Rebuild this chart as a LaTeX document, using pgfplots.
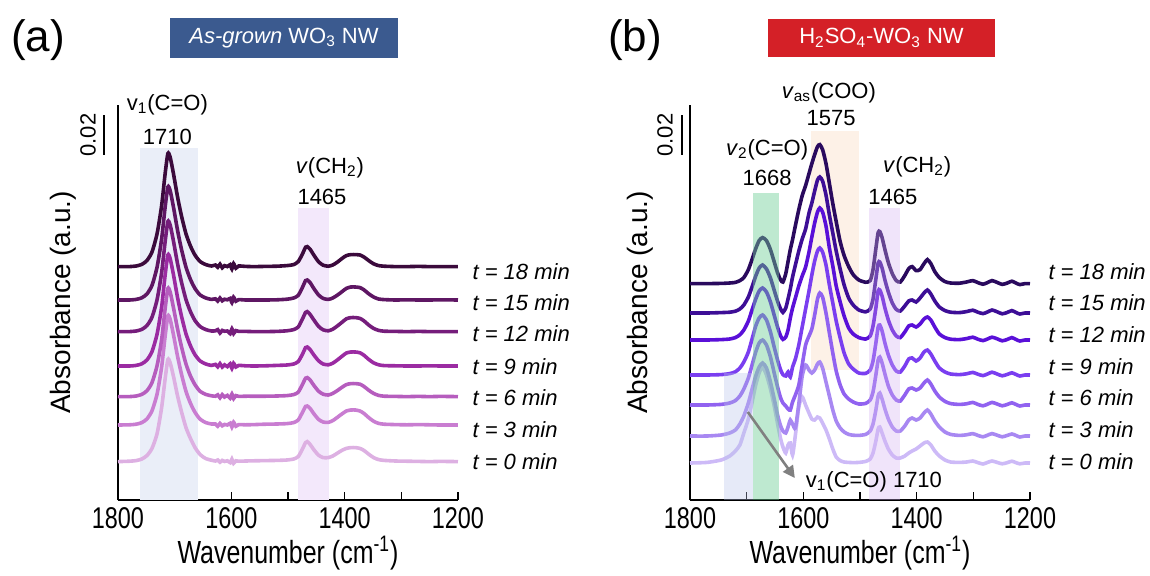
\documentclass[border=0pt]{standalone}
\usepackage{pgfplots}
\pgfplotsset{compat=1.18}
\usepackage{pgfplotstable}
\usepackage{fontspec}
\setmainfont{Liberation Sans}
\newfontfamily\narrowfont[FakeStretch=0.78]{Liberation Sans}
\usetikzlibrary{arrows.meta}

% curve colours, t = 0 ... 18 min
\definecolor{la0}{HTML}{DDB0E2}
\definecolor{la3}{HTML}{C97DD1}
\definecolor{la6}{HTML}{B65DBE}
\definecolor{la9}{HTML}{9B2BA2}
\definecolor{la12}{HTML}{751D7B}
\definecolor{la15}{HTML}{5E1663}
\definecolor{la18}{HTML}{3B0A3C}
\definecolor{rb0}{HTML}{CDBAF7}
\definecolor{rb3}{HTML}{A888F2}
\definecolor{rb6}{HTML}{9162F0}
\definecolor{rb9}{HTML}{7A3EF0}
\definecolor{rb12}{HTML}{5A10D8}
\definecolor{rb15}{HTML}{3D0E96}
\definecolor{rb18}{HTML}{2A0A5E}
\definecolor{boxblue}{HTML}{3B5A8F}
\definecolor{boxred}{HTML}{D42027}
\definecolor{bandblue}{HTML}{EAEEF8}
\definecolor{bandpurple}{HTML}{F3E8FB}
\definecolor{bandorange}{HTML}{FDF1E7}
\definecolor{bandgreen}{HTML}{6FCF97}
\definecolor{bandblue2}{HTML}{B8C3EA}
\definecolor{bandpurple2}{HTML}{D4B3F2}

% absorbance in 10^-3, relative to each curve's own baseline
\pgfplotstableread{
wn   l0   l3   l6   l9   l12  l15  l18
1800 0    0    0    0    0    0    0
1780 0.2  0.1  0    0    0    0    0
1768 0.5  0.4  0.3  0.3  0.3  0.3  0.3
1758 1.3  1.2  1.1  1.1  1.1  1.1  1.1
1749 3    3    2.9  3    3    3    3
1740 6.6  7.1  7    7.2  7.2  7.3  7.3
1731 14   15.5 15.5 16   16   16.5 16.5
1723 27   29   28.5 29.5 29.5 30.5 30.5
1717 41   44   43.5 45   44.5 46   46
1712 51   54.5 54   55.5 55   56.5 56.5
1708 49.5 52.9 52.4 53.8 53.4 54.8 54.8
1702 42.5 45   44.3 45.5 45.1 46.3 46.3
1695 33   34.5 34   34.4 34.1 35   35
1688 25   25.5 25   25   24.8 25.4 25.4
1680 17   16.8 16.3 16.1 16   16.4 16.4
1672 11.5 10.8 10.2 10   9.9  10.2 10.2
1664 7    6.3  5.9  5.6  5.5  5.7  5.7
1655 3.5  2.9  2.6  2.5  2.5  2.5  2.5
1645 1.5  1.2  1.1  1    1    1    1
1635 0.7  0.5  0.4  0.3  0.3  0.3  0.3
1628 0.3  0.5  0.2  0.8  0.4  0.6  0.8
1624 0.8  -0.6 0.9  -0.4 1    -0.5 -0.3
1620 -0.3 0.8  -0.6 1.2  -0.7 1    1.2
1616 0.6  -0.4 1    -0.5 0.6  -0.4 -0.6
1612 0.1  0.3  -0.2 0.6  0.2  0.4  0.5
1607 0.4  0    0.6  -0.3 0.3  0.1  0
1602 -0.5 0.9  -0.8 1.1  -1   0.8  1
1599 1.2  -1   1.3  -1.2 1.4  -1.3 -1.2
1596 -0.8 1.4  -1   1.4  -1   1.4  1.5
1592 0.4  -0.6 0.5  -0.5 0.5  -0.6 -0.8
1587 0.2  0.2  0.1  0.3  0.1  0.2  0.3
1575 0.3  0.1  0.2  0.1  0.1  0    0.1
1560 0.4  0.2  0.2  0    0    0    0
1540 0.5  0.4  0.2  0.1  0    0    0.1
1520 0.6  0.5  0.3  0.3  0.1  0.1  0.2
1502 0.8  0.7  0.5  0.5  0.4  0.4  0.5
1490 1.3  1.2  1    1    1    1    1
1482 2.5  2.5  2.2  2.2  2.3  2.3  2.5
1475 6    6    5.8  5.6  6    6    6
1469 9.5  9.3  9.2  9.2  9.6  9.7  9.7
1466 10   9.5  9.5  9.5  10   10   10
1461 8.6  8.3  8.3  8.2  8.6  8.7  8.7
1454 5.8  5.5  5.5  5.4  5.7  5.6  5.6
1446 3.2  2.8  2.7  2.6  2.6  2.5  2.4
1438 2    1.5  1.2  1    0.9  0.8  0.7
1429 2    1.3  0.8  0.6  0.4  0.3  0.2
1421 2.8  2.2  1.6  1.4  1.2  1    0.8
1413 4.2  3.8  3    3    2.8  2.4  2.2
1405 5.6  5.5  4.6  4.8  4.6  4.1  4
1397 6.6  7    6    6.5  6.4  5.8  5.5
1389 7    7.5  6.5  7    7    6.5  6
1381 7    7.5  6.5  7    7    6.5  6
1373 6.6  7    6.2  6.6  6.6  6.2  5.8
1366 5.6  5.8  5.1  5.4  5.4  5.1  4.8
1358 3.8  3.8  3.3  3.4  3.4  3.2  3.1
1349 2    1.9  1.6  1.6  1.6  1.5  1.4
1340 1    0.8  0.6  0.6  0.6  0.5  0.5
1330 0.6  0.4  0.2  0.2  0.2  0.2  0.2
1310 0.3  0.2  0.1  0.1  0.1  0    0
1290 0.2  0.1  0    0    0    0.1  0
1270 0.1  0.2  0.1  0    0.1  0    0.1
1250 0    0.1  0    0.1  0    0    0
1230 0.1  0    0.1  0    0    0.1  0
1200 0    0    0    0    0    0    0
}\lefttab

\pgfplotstableread{
wn   r0   r3   r6   r9   r12  r15  r18
1800 0    0    0    0    0    0    0
1770 0.3  0    0    0    0    0    0
1745 1.5  0.5  0.3  0.2  0.2  0.2  0.1
1730 3.5  1.5  1    0.7  0.5  0.4  0.3
1720 6    3    2.2  1.6  1.2  0.9  0.6
1712 9    6    4.5  3.5  2.6  2    1.5
1705 15   10   8    6.5  5    4    3
1697 22   16.5 13.5 11.5 9.5  8    7
1690 31   24   20.5 18.5 15.5 13.5 12.5
1684 39   30   26.5 24.5 20.5 18.5 17.5
1678 45   34.5 31   28.5 24.5 22.5 21.5
1672 48   36.5 32.5 30   26   24   23
1665 44   34   30   27.5 24   22   21.5
1658 37   27   24   21.5 19   17.5 17
1651 28   18   15.5 13.5 12   11   10.5
1645 19   10   8.5  7    6    5.5  5
1640 12   5    3.5  2.5  2    2    1.8
1636 8    2.5  1    0.2  0.3  0.3  0.8
1631 5    1.5  -0.5 -0.5 1.5  2.5  5
1627 9    4.5  -2   1.5  5    7    11
1623 10   8    -2.5 -1   11   12   17
1619 4    6    1.5  4    16   18   22
1614 14   4    5    8    21   24   29
1608 28   16   10   15   27   31   37
1602 33   30   20   24   32   37   44
1596 29   35.5 30   33   36.5 42   49
1590 25   33   34.5 42   44   50   55
1585 22   31.5 38   50   51.5 55   60
1580 21.5 33   45   57   58.5 61   64.5
1575 23   36   53   62   64   66.5 68.5
1571 22.5 37   56   63.5 66   68   69.5
1566 20   34   54   61.5 64   66   67
1560 16.5 27   46   55   57   59   60
1554 12   20   36   45   46   49   50
1548 7    13   26   36   37   40   40
1542 3    7.5  17   27   27   31   31
1535 1.2  4    10   18.5 19   22   21
1528 0.5  2    5.5  11   12   14   14
1520 0.3  0.8  3    5.5  6    7.5  8.5
1512 0.2  0.4  1.5  3    3    4    4.5
1502 0.3  0.3  0.5  1    1.2  1.5  1.8
1490 0.8  0.8  0.8  0.8  0.5  0.6  0.7
1482 2    2.5  2.5  2.5  2    2    1.5
1477 5    6    6.5  7    7    7    7
1472 11   13   15   16   16   17   17.5
1468 17   20   22.5 24   24.5 25   25.5
1465 18   21.5 24   25   25   25.5 26
1461 15   18.5 21   22   22   22.5 23
1456 11   13.5 15.5 16   16   16.5 17
1450 7    8.5  9.5  10   10   10.5 10.5
1443 4    4.5  5    5    5    5    5
1436 2.5  2.5  2.5  2    2    1.8  1.5
1429 2.5  2.5  2    1.5  1.2  1    0.8
1421 3.5  5    5    4.5  4    3.5  4
1414 5    8    8    8    7    6    7.5
1408 6    9    8.5  8.5  7.5  6.5  8.5
1401 7    8    7.5  7    6.5  5.5  6.5
1394 8.5  9    8.5  8.5  8    7.5  7
1387 10   11.5 11   11.5 10.5 10   10
1381 10.5 13   12.5 12.5 11.5 11.5 12
1375 9    11   10.5 10.5 10   9.5  10
1368 6    7.5  7    7    6.5  6    6
1360 3.5  4.5  4    3.5  3    3    3
1350 1.5  2    1.8  1.5  1.2  1.2  1
1340 0.5  0.8  0.7  0.5  0.4  0.4  0.3
1325 0.3  0.3  0.3  0.2  0.2  0.2  0.2
1312 0.5  0.6  0.6  0.6  0.7  0.7  0.8
1301 1    1.2  1.3  1.3  1.4  1.4  1.5
1292 0.2  0.3  0.3  0.4  0.4  0.4  0.5
1283 -0.5 -0.4 -0.4 -0.3 -0.3 -0.3 -0.3
1275 0.3  0.4  0.4  0.5  0.5  0.5  0.5
1267 1    1.2  1.3  1.4  1.4  1.5  1.5
1258 0.3  0.4  0.5  0.5  0.6  0.6  0.6
1249 -0.4 -0.4 -0.4 -0.4 -0.4 -0.4 -0.4
1240 0.2  0.3  0.3  0.3  0.3  0.3  0.3
1232 0.9  1    1.1  1.1  1.2  1.2  1.2
1225 0.2  0.3  0.3  0.3  0.3  0.3  0.3
1218 -0.4 -0.5 -0.5 -0.5 -0.5 -0.5 -0.5
1209 0    0    0    0    0    0    0
1200 0    0    0    0    0    0    0
}\righttab

\pgfplotsset{
  ftir/.style={
    width=170pt, height=197.5pt, scale only axis,
    xmin=1200, xmax=1800, x dir=reverse,
    ymin=0, ymax=197.5,
    axis x line=bottom, axis y line=left,
    axis line style={-, line width=0.7pt},
    ytick=\empty,
    xtick={1200,1400,1600,1800},
    minor xtick={1300,1500,1700},
    tick align=inside,
    major tick length=4pt, minor tick length=4pt,
    every tick/.style={black, line width=0.7pt},
    /pgf/number format/assume math mode=true,
    /pgf/number format/1000 sep={},
    xticklabel style={font=\narrowfont\fontsize{15}{15}\selectfont},
    xlabel={Wavenumber (cm\textsuperscript{-1})},
    xlabel style={font=\narrowfont\fontsize{16}{16}\selectfont,
      at={(axis description cs:0.5,-0.134)}, anchor=center},
    ylabel={Absorbance (a.u.)},
    ylabel style={font=\fontsize{14}{14}\selectfont, anchor=center},
    clip=false,
  },
  spec/.style={line width=1.8pt, smooth, tension=0.4},
}
\tikzset{
  tlab/.style={anchor=west, inner sep=0pt, font=\itshape\fontsize{11}{11}\selectfont},
  blab/.style={font=\fontsize{11}{11}\selectfont},
}

\begin{document}
\begin{tikzpicture}
\path[use as bounding box] (0,0) rectangle (575pt,287.5pt);

% panel (a)
\begin{axis}[ftir, at={(59pt,37.5pt)}, anchor=south west,
  ylabel style={at={(axis description cs:-0.162,0.5)}}]
\fill[bandblue] (axis cs:1761,0) rectangle (axis cs:1659,176);
\fill[bandpurple] (axis cs:1482,0) rectangle (axis cs:1428,146);
\addplot[spec, la0]  table[x=wn, y expr=\thisrow{l0}+19.2]  {\lefttab};
\addplot[spec, la3]  table[x=wn, y expr=\thisrow{l3}+37.5]  {\lefttab};
\addplot[spec, la6]  table[x=wn, y expr=\thisrow{l6}+51.7]  {\lefttab};
\addplot[spec, la9]  table[x=wn, y expr=\thisrow{l9}+67]    {\lefttab};
\addplot[spec, la12] table[x=wn, y expr=\thisrow{l12}+84.2] {\lefttab};
\addplot[spec, la15] table[x=wn, y expr=\thisrow{l15}+100]  {\lefttab};
\addplot[spec, la18] table[x=wn, y expr=\thisrow{l18}+116.7]{\lefttab};
\node[tlab] at (axis cs:1175,114)  {t = 18 min};
\node[tlab] at (axis cs:1175,98.5) {t = 15 min};
\node[tlab] at (axis cs:1175,83)   {t = 12 min};
\node[tlab] at (axis cs:1175,66.5) {t = 9 min};
\node[tlab] at (axis cs:1175,51)   {t = 6 min};
\node[tlab] at (axis cs:1175,35)   {t = 3 min};
\node[tlab] at (axis cs:1175,19)   {t = 0 min};
\node[blab] at (axis cs:1713,197.5) {v\textsubscript{1}(C=O)};
\node[blab] at (axis cs:1713,181.5) {1710};
\node[blab] at (axis cs:1426,166) {\textit{v}(CH\textsubscript{2})};
\node[blab] at (axis cs:1440,151.5) {1465};
\draw[line width=0.7pt] (axis cs:1825,192.5) -- (axis cs:1825,172.5);
\node[blab, rotate=90] at (axis cs:1853,182.5) {0.02};
\end{axis}

% panel (b)
\begin{axis}[ftir, at={(345pt,37.5pt)}, anchor=south west,
  ylabel style={at={(axis description cs:-0.147,0.5)}}]
\fill[bandorange] (axis cs:1586,65) rectangle (axis cs:1502,184.5);
\addplot[spec, rb0]  table[x=wn, y expr=\thisrow{r0}+18.5]  {\righttab};
\addplot[spec, rb3]  table[x=wn, y expr=\thisrow{r3}+32]    {\righttab};
\addplot[spec, rb6]  table[x=wn, y expr=\thisrow{r6}+47.5]  {\righttab};
\addplot[spec, rb9]  table[x=wn, y expr=\thisrow{r9}+62.5]  {\righttab};
\addplot[spec, rb12] table[x=wn, y expr=\thisrow{r12}+80]   {\righttab};
\addplot[spec, rb15] table[x=wn, y expr=\thisrow{r15}+93.5] {\righttab};
\addplot[spec, rb18] table[x=wn, y expr=\thisrow{r18}+108.2]{\righttab};
\fill[bandgreen, opacity=0.45] (axis cs:1689,0) rectangle (axis cs:1643,153.5);
\fill[bandblue2, opacity=0.35] (axis cs:1740,0) rectangle (axis cs:1689,63.5);
\fill[bandpurple2, opacity=0.35] (axis cs:1484,0) rectangle (axis cs:1429,146);
\node[tlab] at (axis cs:1168,114)  {t = 18 min};
\node[tlab] at (axis cs:1168,98.5) {t = 15 min};
\node[tlab] at (axis cs:1168,82.5) {t = 12 min};
\node[tlab] at (axis cs:1168,66.5) {t = 9 min};
\node[tlab] at (axis cs:1168,51)   {t = 6 min};
\node[tlab] at (axis cs:1168,35)   {t = 3 min};
\node[tlab] at (axis cs:1168,19)   {t = 0 min};
\node[blab] at (axis cs:1555,203.5) {\textit{v}\textsubscript{as}(COO)};
\node[blab] at (axis cs:1551,191) {1575};
\node[blab] at (axis cs:1664,175) {\textit{v}\textsubscript{2}(C=O)};
\node[blab] at (axis cs:1664,161) {1668};
\node[blab] at (axis cs:1399,166.5) {\textit{v}(CH\textsubscript{2})};
\node[blab] at (axis cs:1442,151.5) {1465};
\draw[-{Triangle[length=6pt,width=6pt]}, line width=1.3pt, black!50]
  (axis cs:1698,44) -- (axis cs:1615,11);
\node[blab, anchor=west] at (axis cs:1608,9) {v\textsubscript{1}(C=O) 1710};
\draw[line width=0.7pt] (axis cs:1814,192.5) -- (axis cs:1814,172.5);
\node[blab, rotate=90] at (axis cs:1844,182.5) {0.02};
\end{axis}

% panel letters and title boxes
\node[font=\fontsize{22}{22}\selectfont] at (19pt,267.5pt) {(a)};
\node[font=\fontsize{22}{22}\selectfont] at (317.5pt,267.5pt) {(b)};
\node[fill=boxblue, text=white, minimum width=114pt, minimum height=20pt,
  inner sep=0pt, font=\fontsize{11}{11}\selectfont] at (142pt,268.5pt)
  {\textit{As-grown} WO\textsubscript{3} NW};
\node[fill=boxred, text=white, minimum width=113.5pt, minimum height=19pt,
  inner sep=0pt, font=\fontsize{11}{11}\selectfont] at (440.75pt,268.5pt)
  {H\textsubscript{2}SO\textsubscript{4}-WO\textsubscript{3} NW};
\end{tikzpicture}
\end{document}
